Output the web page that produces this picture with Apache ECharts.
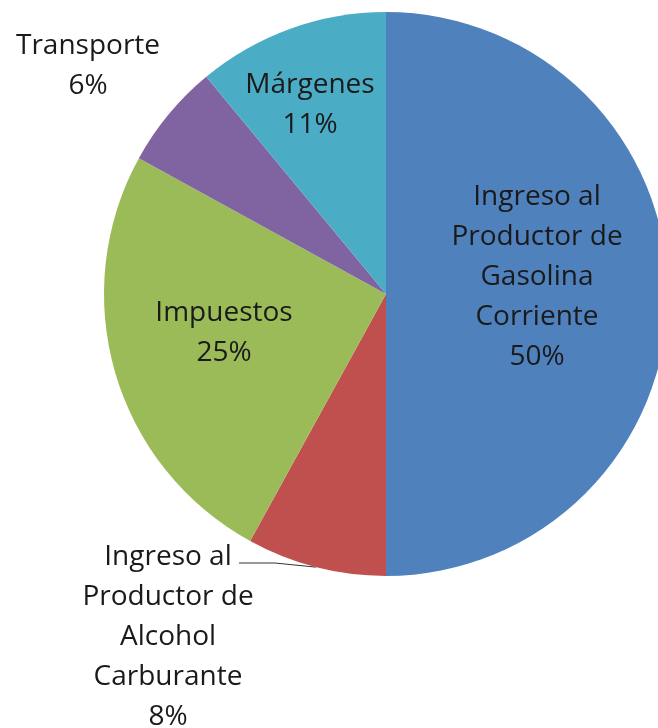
<!DOCTYPE html>
<html>
<head>
<meta charset="utf-8">
<script src="https://cdn.jsdelivr.net/npm/echarts@6/dist/echarts.min.js"></script>
<style>
  html, body { margin: 0; padding: 0; background: #fff; }
  #chart { width: 658px; height: 728px; }
</style>
</head>
<body>
<div id="chart"></div>
<script>
// slices, clockwise from 12 o'clock
const names = [
  'Ingreso al\nProductor de\nGasolina\nCorriente',
  'Ingreso al\nProductor de\nAlcohol\nCarburante',
  'Impuestos',
  'Transporte',
  'Márgenes'
]
const values = [50, 8, 25, 6, 11]
const colors = ['#4f81bd', '#c0504d', '#9bbb59', '#8064a2', '#4bacc6']

// where each label block is centred (px)
const labelSpots = [[537, 277], [168, 637], [224, 333], [88, 66], [310, 105]]

const chart = echarts.init(document.getElementById('chart'))
chart.setOption({
  animation: false,
  series: [{
    type: 'pie',
    center: [386, 294],
    radius: 282,
    startAngle: 90,
    clockwise: true,
    avoidLabelOverlap: false,
    itemStyle: { borderWidth: 0 },
    label: {
      show: true,
      position: 'outside',
      fontFamily: 'Open Sans',
      fontSize: 28,
      lineHeight: 40,
      color: '#1a1a1a',
      formatter: p => p.name + '\n' + p.value + '%'
    },
    labelLine: { show: false },
    emphasis: { disabled: true },
    data: names.map((n, i) => ({
      name: n,
      value: values[i],
      itemStyle: { color: colors[i] },
      labelLine: i === 1
        ? { show: true, lineStyle: { color: '#333', width: 1 } }
        : { show: false }
    })),
    labelLayout: (params) => {
      const [x, y] = labelSpots[params.dataIndex]
      const out = { x, y, align: 'center', verticalAlign: 'middle' }
      if (params.dataIndex === 1 && params.labelLinePoints) {
        const p0 = params.labelLinePoints[0]
        out.labelLinePoints = [p0, [275, 563], [239, 563]]
      }
      return out
    }
  }]
})
</script>
</body>
</html>
